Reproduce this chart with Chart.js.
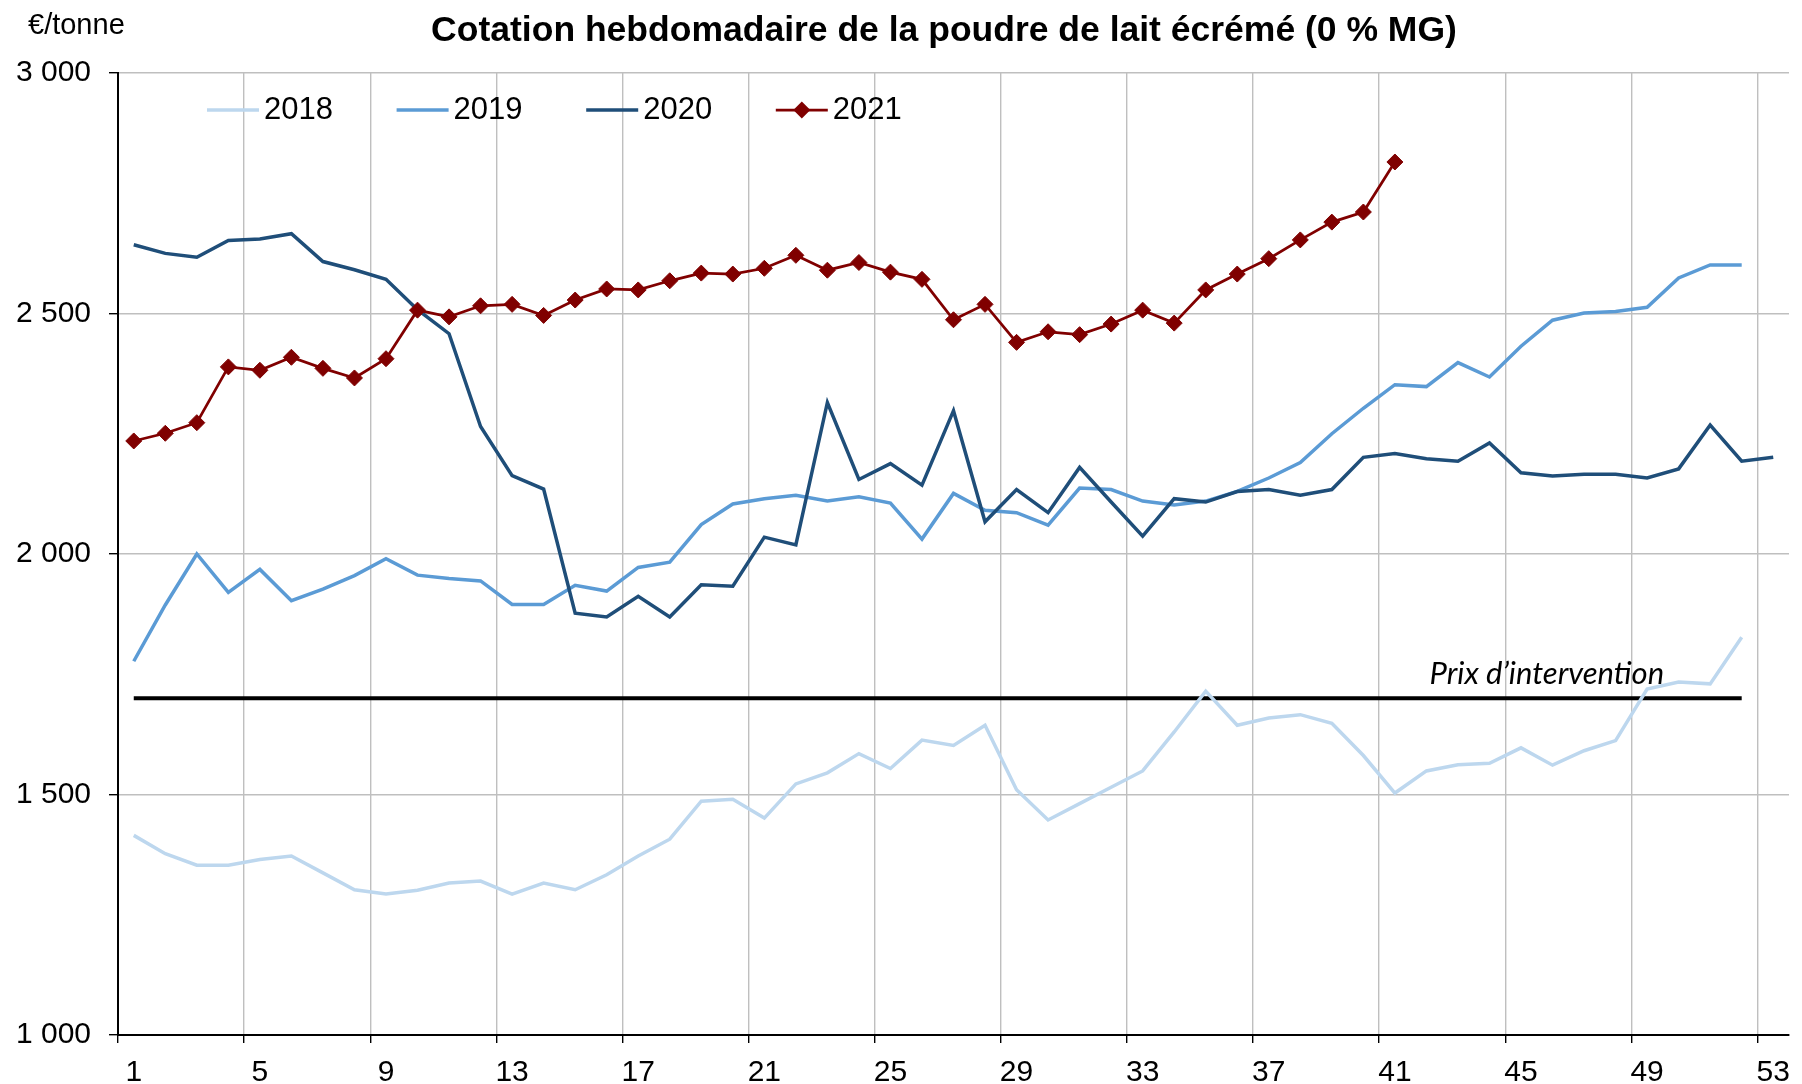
<!DOCTYPE html>
<html lang="fr">
<head>
<meta charset="utf-8">
<title>Cotation hebdomadaire de la poudre de lait écrémé</title>
<script src="https://cdn.jsdelivr.net/npm/chart.js@4.4.0/dist/chart.umd.min.js"></script>
<style>
  html, body { margin: 0; padding: 0; background: #fff; }
</style>
</head>
<body>
<canvas id="chart" width="1802" height="1084"></canvas>
<script>
// Semaines (axe des x)
const weeks = ['1', '2', '3', '4', '5', '6', '7', '8', '9', '10',
    '11', '12', '13', '14', '15', '16', '17', '18', '19', '20',
    '21', '22', '23', '24', '25', '26', '27', '28', '29', '30',
    '31', '32', '33', '34', '35', '36', '37', '38', '39', '40',
    '41', '42', '43', '44', '45', '46', '47', '48', '49', '50',
    '51', '52', '53'];

const years = ['2018', '2019', '2020', '2021'];
const yearColors = ['#BDD7EE', '#5B9BD5', '#1F4E79', '#800000'];

// Cotations en €/tonne
const prices2018 = [1415, 1377, 1353, 1353, 1365, 1372, 1337, 1302, 1293, 1301,
    1316, 1320, 1293, 1316, 1302, 1333, 1372, 1407, 1486, 1490,
    1451, 1522, 1545, 1585, 1554, 1613, 1602, 1644, 1510, 1447,
    1481, 1515, 1549, 1630, 1715, 1644, 1659, 1666, 1648, 1581,
    1503, 1549, 1562, 1565, 1597, 1561, 1591, 1612, 1719, 1734,
    1730, 1827];

const prices2019 = [1777, 1894, 2000, 1920, 1968, 1903, 1927, 1955, 1990, 1956,
    1949, 1944, 1895, 1895, 1935, 1923, 1972, 1983, 2061, 2104,
    2115, 2122, 2110, 2119, 2106, 2031, 2126, 2091, 2086, 2060,
    2137, 2134, 2110, 2102, 2110, 2130, 2158, 2190, 2250, 2303,
    2352, 2348, 2398, 2368, 2432, 2486, 2501, 2504, 2513, 2574,
    2601, 2601];

const prices2020 = [2643, 2625, 2617, 2652, 2655, 2666, 2608, 2591, 2571, 2508,
    2458, 2265, 2163, 2135, 1877, 1869, 1912, 1869, 1936, 1933,
    2035, 2019, 2315, 2155, 2188, 2143, 2298, 2067, 2134, 2086,
    2180, 2108, 2037, 2115, 2108, 2130, 2134, 2122, 2134, 2201,
    2209, 2198, 2193, 2231, 2169, 2162, 2166, 2166, 2158, 2177,
    2268, 2193, 2201];

const prices2021 = [2235, 2251, 2273, 2389, 2382, 2409, 2386, 2366, 2406, 2507,
    2493, 2516, 2519, 2496, 2528, 2551, 2549, 2568, 2584, 2582,
    2594, 2621, 2590, 2606, 2586, 2571, 2487, 2519, 2440, 2462,
    2456, 2478, 2507, 2480, 2549, 2582, 2614, 2653, 2690, 2711,
    2815];

// Prix d'intervention : 1 700 €/t de la semaine 1 à la semaine 52
const interventionWeeks = ['1', '52'];
const interventionPrice = [1700, 1700];

const yMin = 1000;
const yMax = 3000;
const yStep = 500;

const TITLE = 'Cotation hebdomadaire de la poudre de lait écrémé (0 % MG)';
const FONT = '"Liberation Sans", Arial, sans-serif';
const GRID = '#BFBFBF';
const NONE = 'rgba(0,0,0,0)';

function formatThousands(v) {
    return String(v).replace(/\B(?=(\d{3})+(?!\d))/g, ' ');
}

// Titre, unité, légende et libellé du prix d'intervention
const decorPlugin = {
    id: 'decor',
    afterDraw(chart) {
        const ctx = chart.ctx;
        const area = chart.chartArea;
        const xs = chart.scales.x;
        const ys = chart.scales.y;
        ctx.save();
        ctx.fillStyle = '#000';

        ctx.font = 'bold 35.5px ' + FONT;
        ctx.textAlign = 'center';
        ctx.textBaseline = 'middle';
        ctx.fillText(TITLE, 944, 31);

        ctx.font = '29px ' + FONT;
        ctx.textAlign = 'left';
        ctx.fillText('€/tonne', 28, 26);

        // légende dans la zone de tracé
        const ly = area.top + 37;
        years.forEach((year, k) => {
            const x0 = area.left + 89 + k * 189.6;
            const ds = chart.data.datasets.find(d => d.label === year);
            ctx.strokeStyle = ds.borderColor;
            ctx.lineWidth = ds.borderWidth;
            ctx.beginPath();
            ctx.moveTo(x0, ly);
            ctx.lineTo(x0 + 52, ly);
            ctx.stroke();
            if (ds.pointRadius > 0) {
                const r = ds.pointRadius + 0.5;
                const cx = x0 + 26;
                ctx.fillStyle = ds.backgroundColor;
                ctx.beginPath();
                ctx.moveTo(cx - r, ly);
                ctx.lineTo(cx, ly - r);
                ctx.lineTo(cx + r, ly);
                ctx.lineTo(cx, ly + r);
                ctx.closePath();
                ctx.fill();
            }
            ctx.fillStyle = '#000';
            ctx.font = '31px ' + FONT;
            ctx.textAlign = 'left';
            ctx.textBaseline = 'middle';
            ctx.fillText(year, x0 + 57, ly);
        });

        ctx.font = 'italic 31px Lato, "Open Sans", sans-serif';
        ctx.textAlign = 'right';
        ctx.textBaseline = 'alphabetic';
        ctx.fillText('Prix d’intervention', xs.getPixelForValue(48) + 17, ys.getPixelForValue(1700) - 14);
        ctx.restore();
    }
};

const ctx = document.getElementById('chart');
new Chart(ctx, {
    type: 'line',
    data: {
        labels: weeks,
        datasets: [
            {
                label: '2021',
                data: prices2021,
                borderColor: yearColors[3],
                backgroundColor: yearColors[3],
                borderWidth: 2.75,
                pointStyle: 'rectRot',
                pointRadius: 8,
                pointBorderWidth: 1,
                order: 0
            },
            {
                label: '2020',
                data: prices2020,
                borderColor: yearColors[2],
                borderWidth: 3.5,
                pointRadius: 0,
                order: 1
            },
            {
                label: '2019',
                data: prices2019,
                borderColor: yearColors[1],
                borderWidth: 3.5,
                pointRadius: 0,
                order: 2
            },
            {
                label: '2018',
                data: prices2018,
                borderColor: yearColors[0],
                borderWidth: 3.5,
                pointRadius: 0,
                order: 3
            },
            {
                label: 'Prix d’intervention',
                data: interventionWeeks.map((w, i) => ({ x: w, y: interventionPrice[i] })),
                borderColor: '#000',
                borderWidth: 4,
                pointRadius: 0,
                order: 4
            }
        ]
    },
    options: {
        responsive: false,
        devicePixelRatio: 1,
        animation: false,
        layout: { padding: { top: 73, right: 8, left: 0, bottom: 0 } },
        elements: { line: { tension: 0 } },
        plugins: {
            legend: { display: false },
            title: { display: false },
            tooltip: { enabled: false }
        },
        scales: {
            x: {
                type: 'category',
                offset: true,
                grid: {
                    offset: true,
                    color: (c) => (c.index % 4 === 0 ? GRID : NONE),
                    tickColor: (c) => (c.index % 4 === 0 ? '#000' : NONE),
                    lineWidth: 1.4,
                    tickLength: 8
                },
                border: { color: '#000', width: 2 },
                ticks: {
                    autoSkip: false,
                    maxRotation: 0,
                    padding: 12,
                    color: '#000',
                    font: { family: FONT, size: 30 },
                    callback: (v, i) => (i % 4 === 0 ? weeks[i] : '')
                },
                afterFit: (s) => { s.height = 49; }
            },
            y: {
                min: yMin,
                max: yMax,
                grid: {
                    color: (c) => (c.tick && c.tick.value === yMin ? NONE : GRID),
                    tickColor: '#000',
                    lineWidth: 1.4,
                    tickLength: 9
                },
                border: { color: '#000', width: 2 },
                ticks: {
                    stepSize: yStep,
                    padding: 18,
                    color: '#000',
                    font: { family: FONT, size: 30 },
                    callback: (v) => formatThousands(v)
                },
                afterFit: (s) => { s.width = 118; }
            }
        }
    },
    plugins: [decorPlugin]
});
</script>
</body>
</html>
